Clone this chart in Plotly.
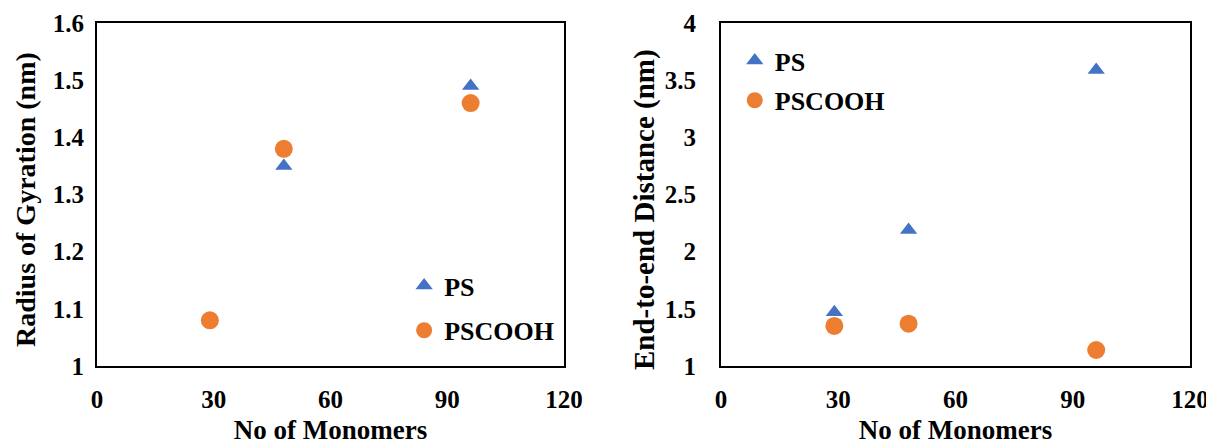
import plotly.graph_objects as go
from plotly.subplots import make_subplots

monomers = [29, 48, 96]
rg_ps = [1.08, 1.35, 1.49]
rg_pscooh = [1.08, 1.38, 1.46]
ree_ps = [1.47, 2.19, 3.59]
ree_pscooh = [1.35, 1.37, 1.14]

x_ticks = [0, 30, 60, 90, 120]
rg_ticks = [1, 1.1, 1.2, 1.3, 1.4, 1.5, 1.6]
ree_ticks = [1, 1.5, 2, 2.5, 3, 3.5, 4]

x_title = "No of Monomers"
rg_title = "Radius of Gyration (nm)"
ree_title = "End-to-end Distance (nm)"

blue = "#4472C4"
orange = "#ED7D31"
FF = "Times New Roman, Liberation Serif, serif"

fig = make_subplots(rows=1, cols=2)

fig.add_trace(go.Scatter(x=monomers, y=rg_ps, mode="markers", name="PS",
                         marker=dict(symbol="triangle-up", size=15, color=blue),
                         legend="legend", legendgroup="a"), row=1, col=1)
fig.add_trace(go.Scatter(x=monomers, y=rg_pscooh, mode="markers", name="PSCOOH",
                         marker=dict(symbol="circle", size=18, color=orange),
                         legend="legend", legendgroup="b"), row=1, col=1)
fig.add_trace(go.Scatter(x=monomers, y=ree_ps, mode="markers", name="PS",
                         marker=dict(symbol="triangle-up", size=15, color=blue),
                         legend="legend2", legendgroup="c"), row=1, col=2)
fig.add_trace(go.Scatter(x=monomers, y=ree_pscooh, mode="markers", name="PSCOOH",
                         marker=dict(symbol="circle", size=18, color=orange),
                         legend="legend2", legendgroup="d"), row=1, col=2)

tick_font = dict(family=FF, size=25, color="black", weight="bold")
axis_common = dict(showline=True, linecolor="black", linewidth=2, mirror=True,
                   showgrid=False, zeroline=False, ticks="", tickfont=tick_font)

fig.update_xaxes(range=[0, 120], tickvals=x_ticks, ticklabelstandoff=10,
                 title=dict(text=x_title, standoff=8,
                            font=dict(family=FF, size=27, color="black", weight="bold")),
                 **axis_common)
fig.update_xaxes(domain=[0, 0.4273], row=1, col=1)
fig.update_xaxes(domain=[0.5709, 1.0], row=1, col=2)

fig.update_yaxes(range=[1, 1.6], tickvals=rg_ticks, ticklabelstandoff=6,
                 row=1, col=1, **axis_common)
fig.update_yaxes(range=[1, 4], tickvals=ree_ticks, ticklabelstandoff=18,
                 row=1, col=2, **axis_common)

title_font_l = dict(family=FF, size=28, color="black", weight="bold")
title_font_r = dict(family=FF, size=29, color="black", weight="bold")
fig.add_annotation(text=rg_title, textangle=-90, showarrow=False,
                   xref="paper", yref="paper", xanchor="center", yanchor="middle",
                   x=-72 / 1093, y=1 - (192 - 15) / 343, font=title_font_l)
fig.add_annotation(text=ree_title, textangle=-90, showarrow=False,
                   xref="paper", yref="paper", xanchor="center", yanchor="middle",
                   x=(636 - 89) / 1093, y=1 - (202 - 15) / 343, font=title_font_r)

legend_common = dict(font=dict(family=FF, size=26, color="black", weight="bold"),
                     bgcolor="rgba(0,0,0,0)", traceorder="grouped",
                     itemwidth=30, xanchor="left", yanchor="top")

fig.update_layout(
    width=1214, height=447,
    margin=dict(l=89, r=32, t=15, b=89, autoexpand=False),
    font=dict(family=FF, color="black"),
    paper_bgcolor="white", plot_bgcolor="white",
    showlegend=True,
    legend=dict(x=0.281, y=0.303, tracegroupgap=8, **legend_common),
    legend2=dict(x=0.5835, y=0.959, tracegroupgap=3, **legend_common),
)

fig.write_html("out.html")
